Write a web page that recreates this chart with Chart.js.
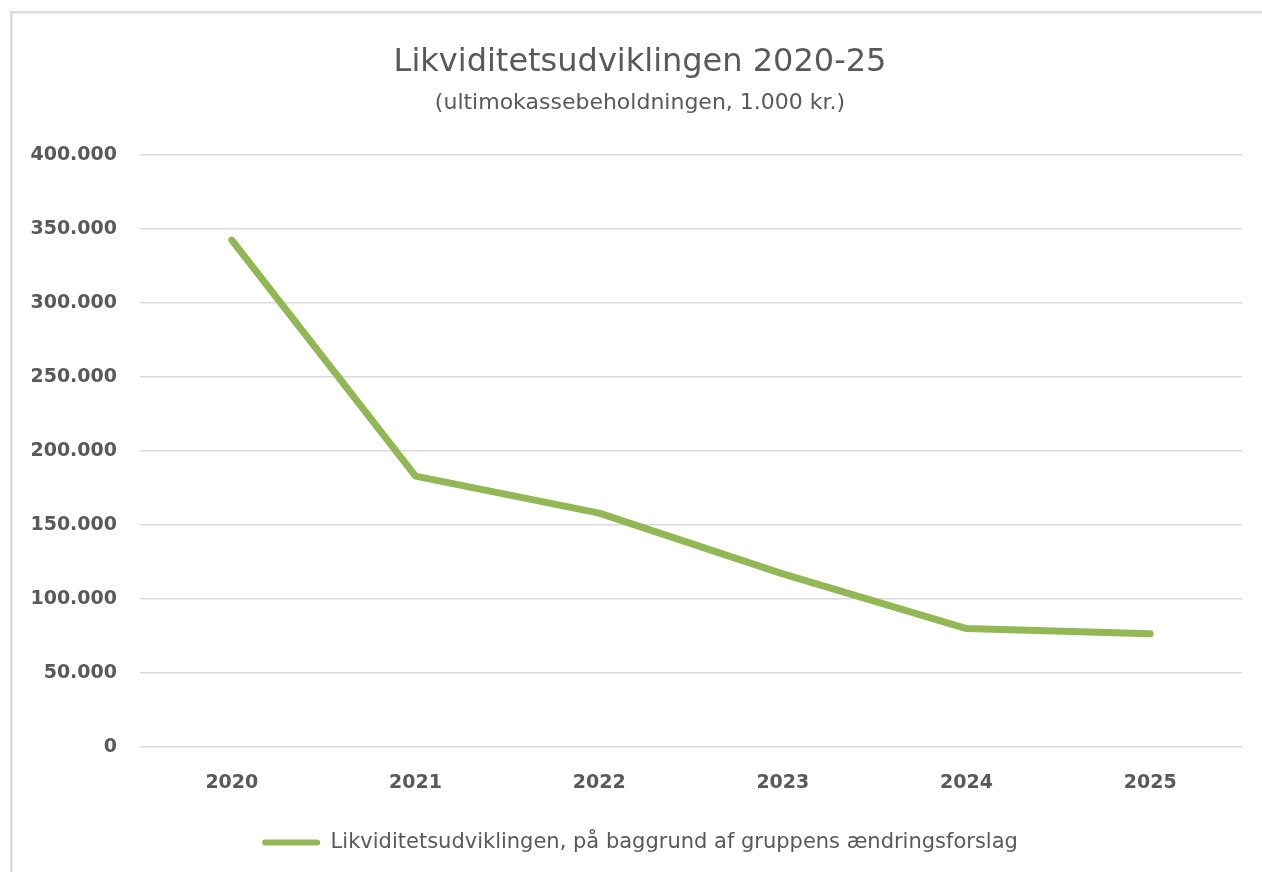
<!DOCTYPE html>
<html>
<head>
<meta charset="utf-8">
<script src="https://cdn.jsdelivr.net/npm/chart.js@4/dist/chart.umd.min.js"></script>
<style>
  html, body { margin: 0; padding: 0; background: #ffffff; }
  #wrap { width: 1262px; height: 872px; }
</style>
</head>
<body>
<div id="wrap"><canvas id="c" width="1262" height="872"></canvas></div>
<script>
const categories = ["2020", "2021", "2022", "2023", "2024", "2025"];
const seriesValues = [342500, 183000, 158000, 117000, 80000, 76500];
const seriesName = "Likviditetsudviklingen, på baggrund af gruppens ændringsforslag";
const titleText = "Likviditetsudviklingen 2020-25";
const subtitleText = "(ultimokassebeholdningen, 1.000 kr.)";
const yTickValues = [0, 50000, 100000, 150000, 200000, 250000, 300000, 350000, 400000];

const GREEN = "#92b755";
const TEXT = "#595959";

function fmt(v) {
  return String(Math.round(v)).replace(/\B(?=(\d{3})+(?!\d))/g, ".");
}

const framePlugin = {
  id: "frame",
  beforeDraw(chart) {
    const ctx = chart.ctx;
    ctx.save();
    ctx.fillStyle = "#ffffff";
    ctx.fillRect(0, 0, chart.width, chart.height);
    ctx.fillStyle = "#dcdcdc";
    ctx.fillRect(10, 11, 2.5, chart.height - 11);
    ctx.fillRect(10, 11, chart.width - 10, 2.5);
    ctx.restore();
  }
};

new Chart(document.getElementById("c"), {
  type: "line",
  data: {
    labels: categories,
    datasets: [{
      label: seriesName,
      data: seriesValues,
      borderColor: GREEN,
      backgroundColor: GREEN,
      borderWidth: 7,
      borderCapStyle: "round",
      borderJoinStyle: "round",
      pointRadius: 0,
      pointHoverRadius: 0,
      tension: 0,
      fill: false
    }]
  },
  options: {
    responsive: false,
    animation: false,
    devicePixelRatio: 1,
    layout: { padding: { left: 12, right: -6, top: 0, bottom: 9 } },
    plugins: {
      title: {
        display: true,
        text: titleText,
        color: TEXT,
        font: { family: "DejaVu Sans", size: 32, weight: "normal" },
        padding: { top: 43, bottom: 0 }
      },
      subtitle: {
        display: true,
        text: subtitleText,
        color: TEXT,
        font: { family: "DejaVu Sans", size: 22, weight: "normal" },
        padding: { top: 9, bottom: 38.2 }
      },
      legend: {
        display: true,
        position: "bottom",
        labels: {
          color: TEXT,
          font: { family: "DejaVu Sans", size: 21 },
          boxWidth: 58,
          boxHeight: 6,
          padding: 10,
          useBorderRadius: true,
          borderRadius: 3,
          generateLabels(chart) {
            return chart.data.datasets.map((ds, i) => ({
              text: ds.label,
              fillStyle: ds.borderColor,
              strokeStyle: ds.borderColor,
              lineWidth: 0,
              hidden: false,
              datasetIndex: i,
              fontColor: TEXT,
              borderRadius: 3
            }));
          }
        }
      },
      tooltip: { enabled: false }
    },
    scales: {
      x: {
        offset: true,
        grid: { display: false, drawTicks: false },
        border: { display: false },
        ticks: {
          color: TEXT,
          font: { family: "DejaVu Sans", size: 19, weight: "bold" },
          padding: 25,
          maxRotation: 0
        },
        afterFit(scale) { scale.height = 75; }
      },
      y: {
        position: "left",
        min: 0,
        max: 400000,
        grid: { color: "#d9d9d9", lineWidth: 1.5, drawTicks: false },
        border: { display: false },
        afterBuildTicks(scale) { scale.ticks = yTickValues.map(v => ({ value: v })); },
        ticks: {
          color: TEXT,
          font: { family: "DejaVu Sans", size: 19, weight: "bold" },
          padding: 23,
          callback: (v) => fmt(v)
        },
        afterFit(scale) { scale.width = 128; }
      },
      yRightSpace: {
        type: "linear",
        position: "right",
        display: true,
        grid: { display: false, drawTicks: false },
        border: { display: false },
        ticks: { display: false },
        afterFit(scale) { scale.width = 26; }
      }
    }
  },
  plugins: [framePlugin]
});
</script>
</body>
</html>
